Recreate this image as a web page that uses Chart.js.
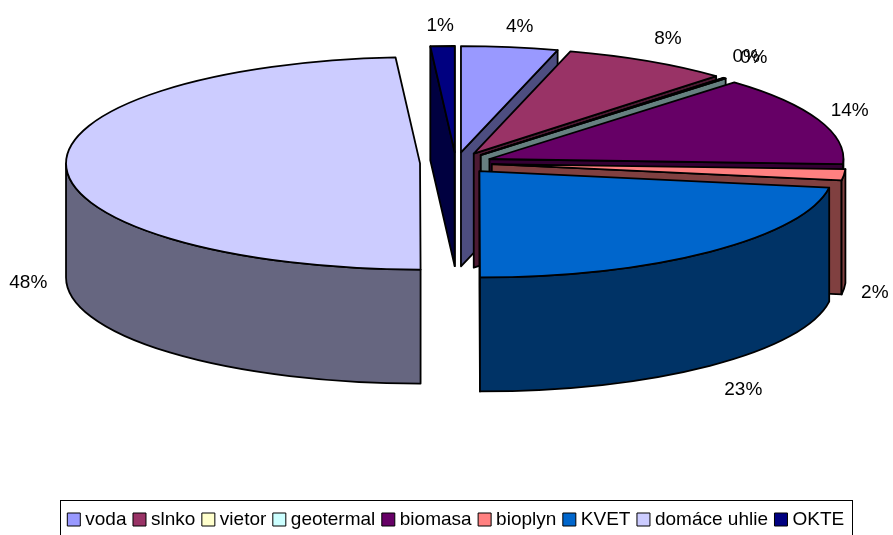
<!DOCTYPE html>
<html>
<head>
<meta charset="utf-8">
<style>
  html, body { margin: 0; padding: 0; height: 535px; background: #fff; overflow: hidden; }
  canvas { display: block; }
</style>
<script src="https://cdn.jsdelivr.net/npm/chart.js@4"></script>
</head>
<body>
<canvas id="energyPie" width="893" height="539"></canvas>
<script>
const categories = ['voda', 'slnko', 'vietor', 'geotermal', 'biomasa', 'bioplyn', 'KVET', 'domáce uhlie', 'OKTE'];
// shares measured from the slice angles, labels as printed on the chart
const shares = [4.4, 7.6, 0.05, 0.1, 13.6, 1.7, 22.5, 48.9, 1.1];
const percentLabels = ['4%', '8%', '0%', '0%', '14%', '2%', '23%', '48%', '1%'];
const faceColors = ['#9999FF', '#993366', '#FFFFCC', '#CCFFFF', '#660066', '#FF8080', '#0066CC', '#CCCCFF', '#000080'];
const wallColors = ['#4D4D80', '#4D1A33', '#808066', '#668080', '#330033', '#804040', '#003366', '#666680', '#000040'];

// small per-label shifts, excel places these by hand
const labelNudge = [[5, 1], [2, -3], [-2, -5], [4, -5], [-2, -1], [-5, 2], [10, 7], [-2, 1], [-1, 2]];

const tilt = 0.3;
const depth = 114;
const pieX = 456;
const pieY = 163;

const pie3d = {
  id: 'pie3d',
  beforeDatasetsDraw(chart) {
    const ctx = chart.ctx;
    const arcs = chart.getDatasetMeta(0).data;

    const slices = arcs.map((arc, i) => {
      const t0 = arc.startAngle, t1 = arc.endAngle, mid = (t0 + t1) / 2;
      const off = arc.options.offset;
      return {
        i, t0, t1, mid,
        r: arc.outerRadius,
        x: pieX + off * Math.cos(mid),
        y: pieY + off * Math.sin(mid) * tilt
      };
    });

    ctx.save();
    ctx.lineWidth = 1.8;
    ctx.lineJoin = 'round';
    ctx.strokeStyle = '#000';

    // back to front
    slices.slice().sort((a, b) => Math.sin(a.mid) - Math.sin(b.mid)).forEach(s => {
      const ry = s.r * tilt;
      const edge = t => [s.x + s.r * Math.cos(t), s.y + ry * Math.sin(t)];
      const cutWall = t => {
        const [ex, ey] = edge(t);
        ctx.beginPath();
        ctx.moveTo(s.x, s.y);
        ctx.lineTo(ex, ey);
        ctx.lineTo(ex, ey + depth);
        ctx.lineTo(s.x, s.y + depth);
        ctx.closePath();
        ctx.fillStyle = wallColors[s.i];
        ctx.fill();
        ctx.stroke();
      };
      if (Math.cos(s.t0) < 0) cutWall(s.t0);
      if (Math.cos(s.t1) > 0) cutWall(s.t1);

      const a = Math.max(s.t0, 0), b = Math.min(s.t1, Math.PI);
      if (b > a) {
        ctx.beginPath();
        ctx.ellipse(s.x, s.y, s.r, ry, 0, a, b);
        ctx.ellipse(s.x, s.y + depth, s.r, ry, 0, b, a, true);
        ctx.closePath();
        ctx.fillStyle = wallColors[s.i];
        ctx.fill();
        ctx.stroke();
      }

      ctx.beginPath();
      ctx.moveTo(s.x, s.y);
      ctx.ellipse(s.x, s.y, s.r, ry, 0, s.t0, s.t1);
      ctx.closePath();
      ctx.fillStyle = faceColors[s.i];
      ctx.fill();
      ctx.stroke();
    });

    ctx.fillStyle = '#000';
    ctx.font = '19px "Liberation Sans"';
    ctx.textAlign = 'center';
    ctx.textBaseline = 'middle';
    slices.forEach(s => {
      const sinT = Math.sin(s.mid), cosT = Math.cos(s.mid);
      const lx = s.x + (s.r + 36) * cosT + labelNudge[s.i][0];
      let ly = s.y + s.r * tilt * sinT + 22 * sinT + labelNudge[s.i][1];
      if (sinT > 0) ly += depth;
      ctx.fillText(percentLabels[s.i], lx, ly);
    });
    ctx.restore();
    return false;
  },
  afterDraw(chart) {
    // legend frame, its bottom edge falls outside the picture
    const boxes = chart.legend.legendHitBoxes;
    const left = boxes[0].left - 12;
    const last = boxes[boxes.length - 1];
    const ctx = chart.ctx;
    ctx.save();
    ctx.strokeStyle = '#000';
    ctx.lineWidth = 1;
    ctx.strokeRect(Math.round(left) + 0.5, 500.5, Math.round(last.left + last.width + 8 - left), 60);
    ctx.restore();
  }
};

new Chart(document.getElementById('energyPie'), {
  type: 'pie',
  data: {
    labels: categories,
    datasets: [{
      data: shares,
      backgroundColor: faceColors,
      borderColor: '#000',
      borderWidth: 1,
      offset: 36,
      hoverOffset: 36,
      clip: false
    }]
  },
  plugins: [pie3d],
  options: {
    responsive: false,
    animation: false,
    radius: 354,
    layout: { padding: { left: 23 } },
    plugins: {
      tooltip: { enabled: false },
      legend: {
        position: 'bottom',
        labels: {
          usePointStyle: true,
          pointStyle: 'rect',
          boxWidth: 4,
          boxHeight: 13,
          padding: 11,
          color: '#000',
          font: { family: '"Liberation Sans"', size: 19 }
        }
      }
    }
  }
});
</script>
</body>
</html>
